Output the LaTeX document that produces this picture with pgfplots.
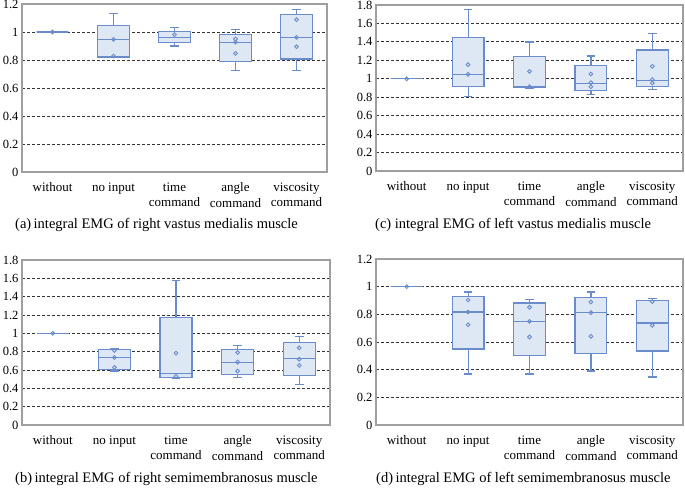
\documentclass[border=0pt]{standalone}
\usepackage{fontspec}
\setmainfont{Liberation Serif}
\usepackage{pgfplots}
\pgfplotsset{compat=1.18}
\usepgfplotslibrary{statistics}

\definecolor{boxedge}{HTML}{6A8CCB}
\definecolor{boxfill}{HTML}{DEE8F5}

\pgfplotsset{
  emgpanel/.style={
    scale only axis,
    anchor=south west,
    xmin=0.5, xmax=5.5, ymin=0,
    xtick={1,2,3,4,5},
    xticklabels={without, no input, time\\command, angle\\command, viscosity\\command},
    xticklabel style={align=center, font=\fontsize{13}{15.5}\selectfont, yshift=-7pt},
    yticklabel style={font=\fontsize{12.5}{14}\selectfont},
    /pgf/number format/assume math mode=true,
    major tick length=0pt,
    ymajorgrids,
    grid style={black!80, line width=0.9pt, dash pattern=on 3pt off 2pt},
    axis line style={gray!75, line width=1.2pt},
    boxplot/draw direction=y,
    boxplot/box extend=0.52,
    boxplot/whisker extend=0.14,
  },
  emgbox/.style={draw=boxedge, fill=boxfill, line width=1.2pt, solid},
  emgpts/.style={only marks, mark=o, mark size=1.9pt, boxedge, mark options={line width=0.9pt, fill=none}},
}

\newcommand{\emgbox}[6]{%
  \addplot[emgbox, boxplot prepared={draw position=#1, lower whisker=#2,
    lower quartile=#3, median=#4, upper quartile=#5, upper whisker=#6}] coordinates {};}

\begin{document}
\begin{tikzpicture}
\path[use as bounding box] (0pt,0pt) rectangle (685pt,489pt);

% (a) right vastus medialis
\begin{axis}[emgpanel, at={(22pt,317pt)}, width=305pt, height=168pt,
  ymax=1.2, ytick={0,0.2,0.4,0.6,0.8,1,1.2}]
\emgbox{1}{1}{1}{1}{1}{1}
\emgbox{2}{0.82}{0.821}{0.947}{1.048}{1.134}
\emgbox{3}{0.90}{0.926}{0.962}{1.002}{1.031}
\emgbox{4}{0.726}{0.788}{0.926}{0.983}{1.017}
\emgbox{5}{0.723}{0.807}{0.962}{1.124}{1.160}
\addplot[emgpts] coordinates {(1,1) (2,0.947) (2,0.828) (3,0.981)
  (4,0.95) (4,0.928) (4,0.847) (5,1.088) (5,0.962) (5,0.895)};
\end{axis}

% (c) left vastus medialis
\begin{axis}[emgpanel, at={(376pt,318pt)}, width=307pt, height=166pt,
  ymax=1.8, ytick={0,0.2,0.4,0.6,0.8,1,1.2,1.4,1.6,1.8}]
\emgbox{1}{1}{1}{1}{1}{1}
\emgbox{2}{0.806}{0.914}{1.048}{1.449}{1.749}
\emgbox{3}{0.90}{0.904}{0.914}{1.24}{1.399}
\emgbox{4}{0.828}{0.871}{0.947}{1.142}{1.247}
\emgbox{5}{0.882}{0.914}{0.979}{1.312}{1.489}
\addplot[emgpts] coordinates {(1,1) (2,1.153) (2,1.048) (3,1.081) (3,0.914)
  (4,1.052) (4,0.958) (4,0.914) (5,1.135) (5,0.99) (5,0.954)};
\end{axis}

% (b) right semimembranosus
\begin{axis}[emgpanel, at={(22pt,64pt)}, width=308pt, height=165pt,
  ymax=1.8, ytick={0,0.2,0.4,0.6,0.8,1,1.2,1.4,1.6,1.8}]
\emgbox{1}{1}{1}{1}{1}{1}
\emgbox{2}{0.588}{0.606}{0.74}{0.82}{0.835}
\emgbox{3}{0.504}{0.522}{0.559}{1.176}{1.575}
\emgbox{4}{0.522}{0.552}{0.686}{0.827}{0.864}
\emgbox{5}{0.439}{0.544}{0.722}{0.90}{0.965}
\addplot[emgpts] coordinates {(1,1) (2,0.813) (2,0.737) (2,0.628) (3,0.784) (3,0.533)
  (4,0.791) (4,0.686) (4,0.588) (5,0.842) (5,0.718) (5,0.65)};
\end{axis}

% (d) left semimembranosus
\begin{axis}[emgpanel, at={(376pt,64pt)}, width=307pt, height=166pt,
  ymax=1.2, ytick={0,0.2,0.4,0.6,0.8,1,1.2}]
\emgbox{1}{1}{1}{1}{1}{1}
\emgbox{2}{0.369}{0.549}{0.817}{0.93}{0.961}
\emgbox{3}{0.369}{0.504}{0.749}{0.882}{0.906}
\emgbox{4}{0.39}{0.516}{0.812}{0.923}{0.961}
\emgbox{5}{0.347}{0.535}{0.737}{0.901}{0.916}
\addplot[emgpts] coordinates {(1,1) (2,0.904) (2,0.817) (2,0.725) (3,0.851) (3,0.749) (3,0.636)
  (4,0.889) (4,0.812) (4,0.641) (5,0.892) (5,0.72)};
\end{axis}

\node[anchor=west, inner sep=0pt, font=\fontsize{14.5}{16}\selectfont] at (15pt,264pt) {(a)\,integral EMG of right vastus medialis muscle};
\node[anchor=west, inner sep=0pt, font=\fontsize{14.5}{16}\selectfont] at (375pt,264pt) {(c) integral EMG of left vastus medialis muscle};
\node[anchor=west, inner sep=0pt, font=\fontsize{14.5}{16}\selectfont] at (15pt,10pt) {(b)\,integral EMG of right semimembranosus muscle};
\node[anchor=west, inner sep=0pt, font=\fontsize{14.5}{16}\selectfont] at (376pt,10pt) {(d)\,integral EMG of left semimembranosus muscle};
\end{tikzpicture}
\end{document}
